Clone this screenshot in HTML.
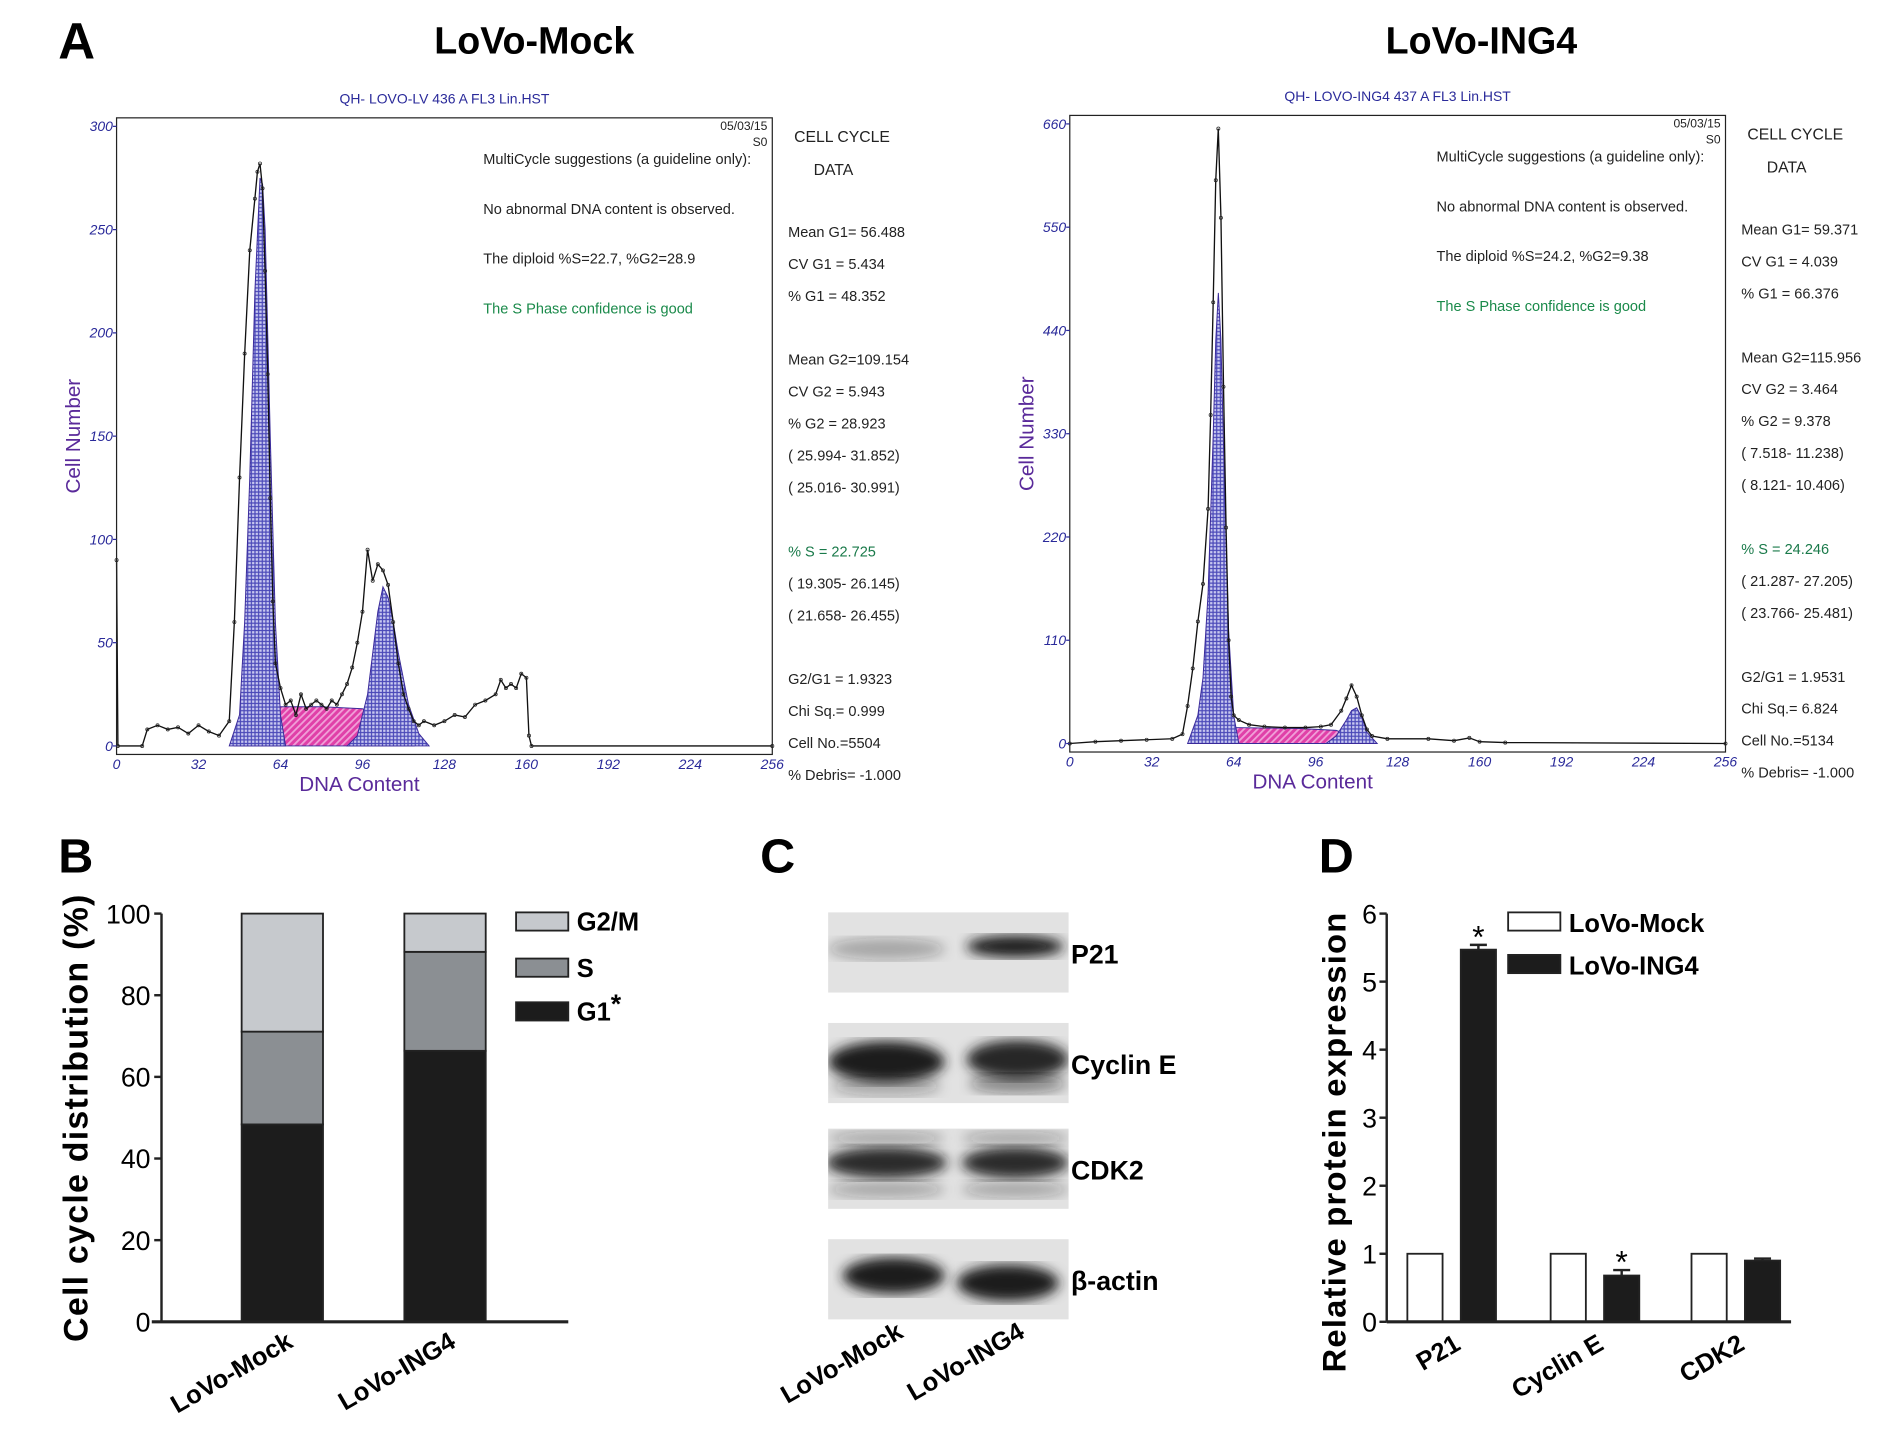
<!DOCTYPE html>
<html><head><meta charset="utf-8">
<style>
html,body{margin:0;padding:0;background:#fff;}
svg{display:block;}
text{font-family:"Liberation Sans",Arial,sans-serif;}
</style></head>
<body>
<svg id="fig" width="1904" height="1436" viewBox="0 0 1568 1182" preserveAspectRatio="none" xmlns="http://www.w3.org/2000/svg">
<defs>
<pattern id="grid" width="3" height="3" patternUnits="userSpaceOnUse">
<rect width="3" height="3" fill="#4a48b8"/><rect x="0.5" y="0.5" width="2" height="2" fill="#c8c8f0"/>
</pattern>
<pattern id="hatch" width="4" height="4" patternUnits="userSpaceOnUse" patternTransform="rotate(45)">
<rect width="4" height="4" fill="#e040a8"/><rect width="1.5" height="4" fill="#f0a0d8"/>
</pattern>
<filter id="blur"><feGaussianBlur stdDeviation="5"/></filter>
</defs>
<text x="48" y="48" font-size="42" font-weight="bold">A</text>
<text x="48" y="718" font-size="40" font-weight="bold">B</text>
<text x="626" y="718" font-size="40" font-weight="bold">C</text>
<text x="1086" y="718" font-size="40" font-weight="bold">D</text>
<g id="histA"></g>
<g id="chartB"></g>
<g id="blotC"></g>
<g id="chartD"></g>
</svg>
<script>
// ---------- Panel A data ----------
const mockRawCh = [0,0.5,10,12,16,20,24,28,32,36,40,44,46,48,50,52,54,55,56,57,58,59,60,61,62,64,66,68,70,72,74,76,78,80,82,84,86,88,90,92,94,96,98,100,102,104,106,108,110,112,114,116,118,120,124,128,132,136,140,144,148,150,152,154,156,158,160,161,162,256];
const mockRawCount = [90,0,0,8,10,8,9,6,10,7,5,12,60,130,190,240,265,278,282,270,230,180,120,70,40,28,20,22,15,25,18,20,22,20,18,22,20,25,30,38,50,65,95,80,88,85,78,60,40,25,18,12,10,12,10,12,15,14,20,22,25,32,28,30,28,35,33,5,0,0];
const mockG1Ch = [44,48,50,52,54,56,57,58,60,62,64,66];
const mockG1 = [0,15,60,130,220,275,272,250,150,60,15,0];
const mockSCh = [46,50,56,64,80,96,104,112,116];
const mockS = [0,10,18,19,19,18,12,4,0];
const mockG2Ch = [90,94,98,100,102,104,106,108,110,114,118,122];
const mockG2 = [0,5,25,45,65,77,72,60,45,20,6,0];

const ingRawCh = [0,10,20,30,40,44,46,48,50,52,54,55,56,57,58,59,60,61,62,63,64,66,70,76,84,92,98,102,106,108,110,112,114,116,118,124,140,150,156,160,170,256];
const ingRawCount = [0,2,3,4,5,10,40,80,130,170,250,350,470,600,655,560,380,230,110,50,30,25,20,18,17,17,18,20,35,48,62,50,30,15,8,5,5,3,6,2,1,0];
const ingG1Ch = [46,50,52,54,56,57,58,59,60,62,64,66];
const ingG1 = [0,30,70,160,330,430,480,430,320,120,30,0];
const ingSCh = [50,56,64,90,104,112,118];
const ingS = [0,12,17,16,14,6,0];
const ingG2Ch = [100,104,108,110,112,114,116,120];
const ingG2 = [0,8,25,35,38,28,12,0];

const xTicks = [0,32,64,96,128,160,192,224,256];
const mockYTicks = [0,50,100,150,200,250,300];
const ingYTicks = [0,110,220,330,440,550,660];

const NS = "http://www.w3.org/2000/svg";
function mk(tag, attrs, parent, txt){
  const e = document.createElementNS(NS, tag);
  for (const k in attrs) e.setAttribute(k, attrs[k]);
  if (txt !== undefined) e.textContent = txt;
  parent.appendChild(e);
  return e;
}

function drawHist(g, o){
  const xs = c => o.x0 + (c/256)*(o.x1 - o.x0);
  const ys = v => o.yb - (v/o.ymax)*(o.yb - o.yt);
  let t;
  t = mk('text',{x:o.tx,y:44,'font-size':31,'font-weight':'bold','text-anchor':'middle'},g,o.title);
  
  
  t = mk('text',{x:(o.x0+o.x1)/2,y:o.fy-12,'font-size':11.5,fill:'#2a2a9a','text-anchor':'middle'},g,o.file);
  
  
  function poly(ch, vals, fill, name){
    let pts = ch.map((c,i)=>xs(c)+','+ys(vals[i])).join(' ');
    const p = mk('polygon',{points:pts,fill:fill,stroke:'#3a2a9a','stroke-width':0.8},g);
    
    
  }
  poly(o.sCh,o.s,'url(#hatch)',o.key+'-s-phase-fit');
  poly(o.g1Ch,o.g1,'url(#grid)',o.key+'-g1-fit');
  poly(o.g2Ch,o.g2,'url(#grid)',o.key+'-g2-fit');
  const d = o.rawCh.map((c,i)=>(i?'L':'M')+xs(c).toFixed(1)+','+ys(o.raw[i]).toFixed(1)).join(' ');
  const ln = mk('path',{d:d,fill:'none',stroke:'#111','stroke-width':1.1},g);
  
  
  o.rawCh.forEach((c,i)=>{
    const cc = mk('circle',{cx:xs(c),cy:ys(o.raw[i]),r:1.3,fill:'none',stroke:'#222','stroke-width':0.6},g);
    
    
  });
  const fr = mk('rect',{x:o.x0,y:o.fy,width:o.x1-o.x0,height:o.yb+7-o.fy,fill:'none',stroke:'#222','stroke-width':1},g);
  
  
  o.yt_.forEach(v=>{
    const tl = mk('text',{x:o.x0-3,y:ys(v)+4,'font-size':11.5,'font-style':'italic',fill:'#2a2a9a','text-anchor':'end'},g,String(v));
    
    
    const tk = mk('line',{x1:o.x0-3,x2:o.x0,y1:ys(v),y2:ys(v),stroke:'#2a2a9a'},g);
    
    
  });
  xTicks.forEach(v=>{
    const tl = mk('text',{x:xs(v),y:o.yb+19,'font-size':11.5,'font-style':'italic',fill:'#2a2a9a','text-anchor':'middle'},g,String(v));
    
    
  });
  t = mk('text',{x:(o.x0+o.x1)/2-70,y:o.yb+37,'font-size':17,fill:'#5a2a9a','text-anchor':'middle'},g,'DNA Content');
  
  
  t = mk('text',{x:0,y:0,'font-size':17,fill:'#5a2a9a','text-anchor':'middle',transform:`translate(${o.x0-30},${(o.yt+o.yb)/2}) rotate(-90)`},g,'Cell Number');
  
  
  const nx = o.x0 + 302;
  [['05/03/15',o.x1-4,o.fy+10,'end','#222'],['S0',o.x1-4,o.fy+23,'end','#222']].forEach(a=>{
    const e = mk('text',{x:a[1],y:a[2],'font-size':10,'text-anchor':a[3],fill:a[4]},g,a[0]);
    
    
  });
  o.notes.forEach((n,i)=>{
    const e = mk('text',{x:nx,y:o.fy+38+i*41,'font-size':12,fill:i==3?'#1a8a4a':'#222'},g,n);
    
    
  });
  const sx = o.x1 + 16;
  const hdr1 = mk('text',{x:sx+2,y:o.fy+20,'font-size':13,fill:'#222'},g,'CELL  CYCLE');
  
  
  const hdr2 = mk('text',{x:sx+18,y:o.fy+47,'font-size':13,fill:'#222'},g,'DATA');
  
  
  o.stats.forEach((s,i)=>{
    if(!s) return;
    const e = mk('text',{x:sx-3,y:o.fy+98+i*26.3,'font-size':12,fill:s.startsWith('% S')?'#1a7a4a':'#222'},g,s);
    
    
  });
}

const gA = document.getElementById('histA');
drawHist(gA,{key:'mock',title:'LoVo-Mock',tx:440,file:'QH- LOVO-LV 436 A FL3 Lin.HST',x0:96,x1:636,fy:97,yb:614,yt:104,ymax:300,yt_:mockYTicks,
 rawCh:mockRawCh,raw:mockRawCount,g1Ch:mockG1Ch,g1:mockG1,sCh:mockSCh,s:mockS,g2Ch:mockG2Ch,g2:mockG2,
 notes:['MultiCycle suggestions (a guideline only):','No abnormal DNA content is observed.','The diploid %S=22.7, %G2=28.9','The S Phase confidence is good'],
 stats:['Mean G1=  56.488','CV G1 =  5.434','% G1 = 48.352','','Mean G2=109.154','CV G2 =  5.943','% G2 = 28.923','( 25.994- 31.852)','( 25.016- 30.991)','','% S  = 22.725','( 19.305- 26.145)','( 21.658- 26.455)','','G2/G1 = 1.9323','Chi Sq.=  0.999','Cell No.=5504','% Debris= -1.000']});
drawHist(gA,{key:'ing4',title:'LoVo-ING4',tx:1220,file:'QH- LOVO-ING4 437 A FL3 Lin.HST',x0:881,x1:1421,fy:95,yb:612,yt:102,ymax:660,yt_:ingYTicks,
 rawCh:ingRawCh,raw:ingRawCount,g1Ch:ingG1Ch,g1:ingG1,sCh:ingSCh,s:ingS,g2Ch:ingG2Ch,g2:ingG2,
 notes:['MultiCycle suggestions (a guideline only):','No abnormal DNA content is observed.','The diploid %S=24.2, %G2=9.38','The S Phase confidence is good'],
 stats:['Mean G1=  59.371','CV G1 =  4.039','% G1 = 66.376','','Mean G2=115.956','CV G2 =  3.464','% G2 =  9.378','(  7.518- 11.238)','(  8.121- 10.406)','','% S  = 24.246','( 21.287- 27.205)','( 23.766- 25.481)','','G2/G1 = 1.9531','Chi Sq.=  6.824','Cell No.=5134','% Debris= -1.000']});
</script>
<script>
// ---------- Panel B data ----------
const bGroups = ['LoVo-Mock','LoVo-ING4'];
const bG1 = [48.35, 66.38];
const bS = [22.73, 24.25];
const bG2 = [28.92, 9.38];
const bTicks = [0,20,40,60,80,100];
(function(){
  const g = document.getElementById('chartB');
  const yb=1088, yt=752, ax=133;
  const ys = v => yb - v/100*(yb-yt);
  const bx = [199,333], bw = 67;
  const cols = {g1:'#1c1c1c',s:'#8b8f93',g2:'#c6c9cd'};
  bGroups.forEach((name,i)=>{
    let base = 0;
    [['g1',bG1[i]],['s',bS[i]],['g2',bG2[i]]].forEach(([k,v])=>{
      const r = mk('rect',{x:bx[i],y:ys(base+v),width:bw,height:ys(base)-ys(base+v),fill:cols[k],stroke:'#222','stroke-width':1.5},g);
      
      
      base += v;
    });
    const t = mk('text',{x:0,y:0,'font-size':21,'font-weight':'bold','text-anchor':'end',transform:`translate(${bx[i]+bw/2+10},${yb+20}) rotate(-30)`},g,name);
    
    
  });
  let l = mk('line',{x1:ax,x2:ax,y1:yt,y2:yb,stroke:'#222','stroke-width':2},g);
  
  
  l = mk('line',{x1:125,x2:468,y1:yb,y2:yb,stroke:'#222','stroke-width':2.5},g);
  
  
  bTicks.forEach(v=>{
    const tk = mk('line',{x1:ax-6,x2:ax,y1:ys(v),y2:ys(v),stroke:'#222','stroke-width':2},g);
    
    
    const t = mk('text',{x:ax-9,y:ys(v)+8,'font-size':22,'text-anchor':'end'},g,String(v));
    
    
  });
  const yt2 = mk('text',{x:0,y:0,'font-size':28,'font-weight':'bold','text-anchor':'middle','letter-spacing':'1',transform:`translate(72,920) rotate(-90)`},g,'Cell cycle distribution (%)');
  
  
  [['G2/M',cols.g2,751],['S',cols.s,789],['G1',cols.g1,825]].forEach(([lab,c,y])=>{
    const r = mk('rect',{x:425,y:y,width:43,height:15,fill:c,stroke:'#222','stroke-width':1.5},g);
    
    
    const t = mk('text',{x:475,y:y+15,'font-size':21,'font-weight':'bold'},g,lab);
    
    
  });
  const st = mk('text',{x:503,y:834,'font-size':22,'font-weight':'bold'},g,'*');
  
  
})();

// ---------- Panel C ----------
const blotNames = ['P21','Cyclin E','CDK2','β-actin'];
const blotY = [751,842,929,1020];
(function(){
  const g = document.getElementById('blotC');
  const bands = [
    [[{cx:730,cy:30,rx:48,ry:9,o:0.3}],[{cx:836,cy:28,rx:40,ry:9,o:1}]],
    [[{cx:730,cy:32,rx:48,ry:17,o:1},{cx:730,cy:52,rx:45,ry:8,o:0.3}],[{cx:838,cy:30,rx:42,ry:16,o:0.95},{cx:838,cy:50,rx:40,ry:8,o:0.45}]],
    [[{cx:730,cy:28,rx:50,ry:13,o:0.9},{cx:730,cy:50,rx:48,ry:7,o:0.3},{cx:730,cy:8,rx:48,ry:6,o:0.3}],[{cx:836,cy:28,rx:44,ry:13,o:0.9},{cx:836,cy:50,rx:44,ry:7,o:0.3},{cx:836,cy:8,rx:44,ry:6,o:0.3}]],
    [[{cx:736,cy:30,rx:42,ry:15,o:1}],[{cx:830,cy:36,rx:42,ry:15,o:1}]]
  ];
  blotNames.forEach((n,i)=>{
    const y0 = blotY[i];
    const bg = mk('rect',{x:682,y:y0,width:198,height:66,fill:'#e2e2e2'},g);
    
    
    const clip = mk('clipPath',{id:'cl'+i},g);
    mk('rect',{x:682,y:y0,width:198,height:66},clip);
    const bgGroup = mk('g',{'clip-path':`url(#cl${i})`},g);
    bands[i].forEach(lane=>lane.forEach(b=>{
      const e = mk('ellipse',{cx:b.cx,cy:y0+b.cy,rx:b.rx,ry:b.ry,fill:'#1a1a1a','fill-opacity':b.o,filter:'url(#blur)'},bgGroup);
      
      
    }));
    const t = mk('text',{x:882,y:y0+42,'font-size':22,'font-weight':'bold'},g,n);
    
    
  });
  [['LoVo-Mock',745],['LoVo-ING4',845]].forEach(([n,x])=>{
    const t = mk('text',{x:0,y:0,'font-size':21,'font-weight':'bold','text-anchor':'end',transform:`translate(${x},1100) rotate(-30)`},g,n);
    
    
  });
})();

// ---------- Panel D data ----------
const dProteins = ['P21','Cyclin E','CDK2'];
const dMock = [1, 1, 1];
const dIng4 = [5.47, 0.68, 0.90];
const dIng4Err = [0.07, 0.08, 0.03];
const dSig = [true, true, false];
const dTicks = [0,1,2,3,4,5,6];
(function(){
  const g = document.getElementById('chartD');
  const yb=1088, yt=752, ax=1142;
  const ys = v => yb - v/6*(yb-yt);
  const gx = [1159,1277,1393], bw=29;
  dProteins.forEach((p,i)=>{
    let r = mk('rect',{x:gx[i],y:ys(dMock[i]),width:bw,height:yb-ys(dMock[i]),fill:'#fff',stroke:'#222','stroke-width':1.5},g);
    
    
    const x2 = gx[i]+44;
    r = mk('rect',{x:x2,y:ys(dIng4[i]),width:bw,height:yb-ys(dIng4[i]),fill:'#1c1c1c',stroke:'#222','stroke-width':1.5},g);
    
    
    const ec = x2+bw/2, ey = ys(dIng4[i]+dIng4Err[i]);
    let e = mk('line',{x1:ec,x2:ec,y1:ys(dIng4[i]),y2:ey,stroke:'#222','stroke-width':2},g);
    
    
    e = mk('line',{x1:ec-7,x2:ec+7,y1:ey,y2:ey,stroke:'#222','stroke-width':2},g);
    
    
    if (dSig[i]) {
      const s = mk('text',{x:ec,y:ey+2,'font-size':26,'text-anchor':'middle'},g,'*');
      
      
    }
    const t = mk('text',{x:0,y:0,'font-size':21,'font-weight':'bold','text-anchor':'end',transform:`translate(${gx[i]+45},${yb+22}) rotate(-30)`},g,p);
    
    
  });
  let l = mk('line',{x1:ax,x2:ax,y1:yt,y2:yb,stroke:'#222','stroke-width':2},g);
  
  
  l = mk('line',{x1:ax,x2:1475,y1:yb,y2:yb,stroke:'#222','stroke-width':2.5},g);
  
  
  dTicks.forEach(v=>{
    const tk = mk('line',{x1:ax-6,x2:ax,y1:ys(v),y2:ys(v),stroke:'#222','stroke-width':2},g);
    
    
    const t = mk('text',{x:ax-8,y:ys(v)+8,'font-size':22,'text-anchor':'end'},g,String(v));
    
    
  });
  const yt2 = mk('text',{x:0,y:0,'font-size':27,'font-weight':'bold','text-anchor':'middle','letter-spacing':'1',transform:`translate(1108,940) rotate(-90)`},g,'Relative protein expression');
  
  
  [['LoVo-Mock','#fff',751],['LoVo-ING4','#1c1c1c',786]].forEach(([n,c,y])=>{
    const r = mk('rect',{x:1242,y:y,width:43,height:15,fill:c,stroke:'#222','stroke-width':1.5},g);
    
    
    const t = mk('text',{x:1292,y:y+16,'font-size':21,'font-weight':'bold'},g,n);
    
    
  });
})();
</script>
</body></html>
